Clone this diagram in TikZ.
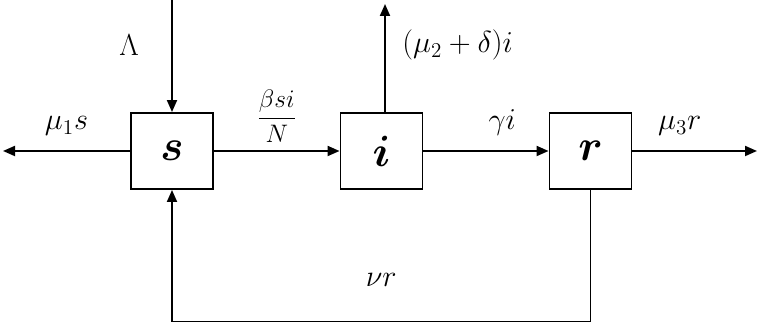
\documentclass[tikz,border=0pt]{standalone}
\usepackage{amsmath,amssymb}
\usepackage{bm}
\usepackage{tikz}
\usetikzlibrary{arrows.meta,positioning,calc}

\begin{document}
\begin{tikzpicture}[
    box/.style={draw, line width=1.1pt, fill=white, minimum width=1.64cm, minimum height=1.52cm, inner sep=0pt, font=\fontsize{27}{30}\selectfont},
    arr/.style={-{Triangle[length=0.24cm, width=0.2cm]}, line width=1.1pt},
    lbl/.style={font=\fontsize{18}{21}\selectfont}
]
\useasboundingbox (0,0) rectangle (15.16,6.48);

\node[box] (s) at (3.44,3.46) {$\bm{s}$};
\node[box] (i) at (7.63,3.46) {$\bm{i}$};
\node[box] (r) at (11.81,3.46) {$\bm{r}$};

\coordinate (in) at (3.44,6.48);
\coordinate (outs) at (0.06,3.46);
\coordinate (outi) at (7.70,6.40);
\coordinate (outr) at (15.14,3.46);
\coordinate (loop) at (0,0.05);

\draw[arr] (in) -- node[lbl, pos=0.4, left=15pt] {$\Lambda$} (s);
\draw[arr] (s) -- node[lbl, above=5pt] {$\mu_1 s$} (outs);
\draw[arr] (s) -- node[lbl, above=1pt, font=\fontsize{14}{16}\selectfont] {$\dfrac{\beta s i}{N}$} (i);
\draw[arr] (i.north -| outi) -- node[lbl, pos=0.62, right=6pt] {$(\mu_2+\delta)i$} (outi);
\draw[arr] (i) -- node[lbl, pos=0.63, above=5pt] {$\gamma i$} (r);
\draw[arr] (r) -- node[lbl, pos=0.38, above=5pt] {$\mu_3 r$} (outr);
\draw[arr] (r.south) |- (loop -| s.south) node[lbl, pos=0.75, above=16pt] {$\nu r$} -- (s.south);
\end{tikzpicture}
\end{document}
